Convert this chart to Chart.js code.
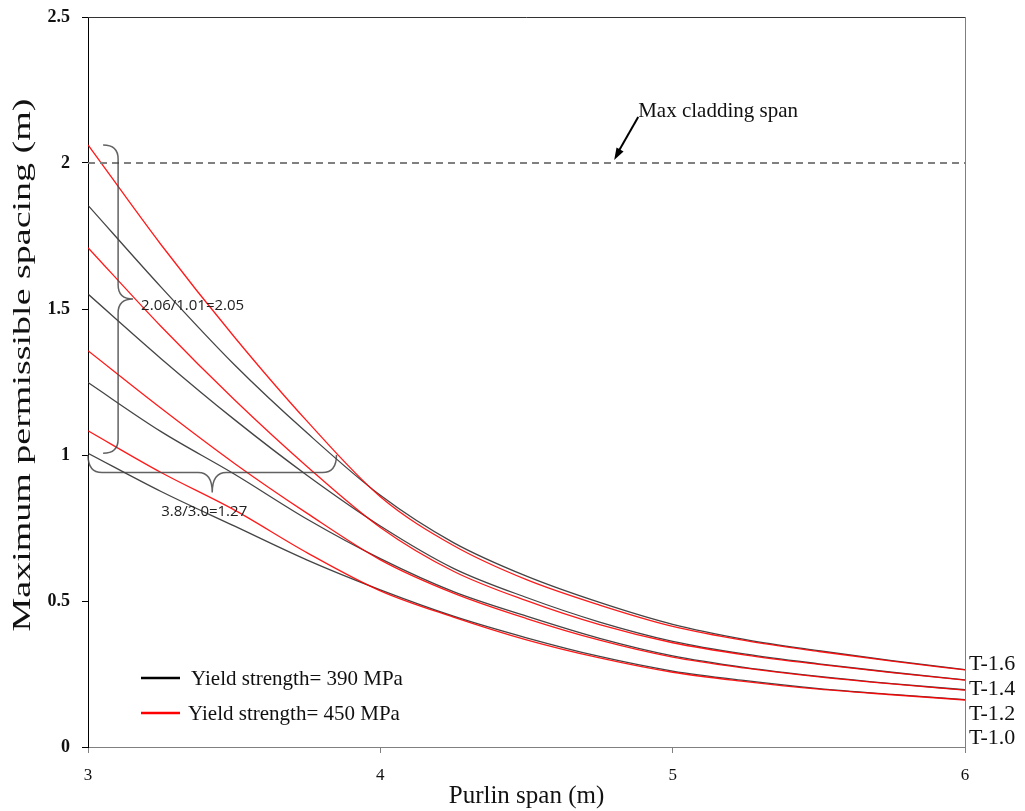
<!DOCTYPE html>
<html>
<head>
<meta charset="utf-8">
<script src="https://cdn.jsdelivr.net/npm/chart.js@4.4.1/dist/chart.umd.min.js"></script>
<style>
  html, body { margin: 0; padding: 0; background: #ffffff; }
  #wrap { width: 1025px; height: 811px; }
</style>
</head>
<body>
<div id="wrap"><canvas id="chart" width="1025" height="811"></canvas></div>
<script>
// Purlin span (m)
const spanX = [3, 3.25, 3.5, 3.75, 4, 4.25, 4.5, 4.75, 5, 5.25, 5.5, 5.75, 6];

// Maximum permissible spacing (m), yield strength 390 MPa
const y390_T16 = [1.855, 1.575, 1.31, 1.075, 0.862, 0.70, 0.585, 0.495, 0.42, 0.368, 0.33, 0.296, 0.265];
const y390_T14 = [1.551, 1.33, 1.122, 0.93, 0.757, 0.612, 0.512, 0.428, 0.362, 0.318, 0.285, 0.256, 0.23];
const y390_T12 = [1.248, 1.08, 0.935, 0.78, 0.645, 0.532, 0.448, 0.372, 0.312, 0.272, 0.242, 0.217, 0.196];
const y390_T10 = [1.006, 0.875, 0.757, 0.64, 0.538, 0.448, 0.374, 0.31, 0.26, 0.227, 0.2, 0.18, 0.162];

// Maximum permissible spacing (m), yield strength 450 MPa
const y450_T16 = [2.062, 1.72, 1.405, 1.115, 0.857, 0.69, 0.573, 0.486, 0.413, 0.364, 0.327, 0.294, 0.264];
const y450_T14 = [1.71, 1.44, 1.19, 0.96, 0.752, 0.602, 0.501, 0.419, 0.357, 0.315, 0.283, 0.255, 0.229];
const y450_T12 = [1.357, 1.16, 0.972, 0.80, 0.641, 0.527, 0.44, 0.366, 0.308, 0.27, 0.24, 0.216, 0.195];
const y450_T10 = [1.083, 0.94, 0.812, 0.665, 0.535, 0.445, 0.367, 0.305, 0.256, 0.224, 0.198, 0.179, 0.161];

// Cladding limit
const maxCladdingSpan = 2.0;

// Text
const thicknessLabels = ['T-1.6', 'T-1.4', 'T-1.2', 'T-1.0'];
const legendLabels = ['Yield strength= 390 MPa', 'Yield strength= 450 MPa'];
const xTitle = 'Purlin span (m)';
const yTitle = 'Maximum permissible spacing (m)';
const claddingLabel = 'Max cladding span';
const ratioThickness = '2.06/1.01=2.05';
const ratioSpan = '3.8/3.0=1.27';

const COLOR_390 = 'rgba(35,35,35,0.85)';
const COLOR_450 = 'rgba(255,0,0,0.9)';
const SERIF = '"Liberation Serif", "Times New Roman", serif';

function pts(values) {
  return spanX.map((x, i) => ({ x: x, y: values[i] }));
}

function curve(label, values, color) {
  return {
    label: label,
    data: pts(values),
    borderColor: color,
    backgroundColor: color,
    borderWidth: 1.3,
    pointRadius: 0,
    cubicInterpolationMode: 'monotone',
    fill: false
  };
}

const datasets = [
  {
    label: claddingLabel,
    data: [{ x: 3, y: maxCladdingSpan }, { x: 6, y: maxCladdingSpan }],
    borderColor: '#808080',
    borderWidth: 2,
    borderDash: [7, 5],
    pointRadius: 0,
    fill: false
  },
  curve('450 T-1.6', y450_T16, COLOR_450),
  curve('450 T-1.4', y450_T14, COLOR_450),
  curve('450 T-1.2', y450_T12, COLOR_450),
  curve('450 T-1.0', y450_T10, COLOR_450),
  curve('390 T-1.6', y390_T16, COLOR_390),
  curve('390 T-1.4', y390_T14, COLOR_390),
  curve('390 T-1.2', y390_T12, COLOR_390),
  curve('390 T-1.0', y390_T10, COLOR_390)
];

// Curly brace helpers (drawn in pixel space from scale positions)
function verticalBrace(ctx, x, yTop, yBot, depth) {
  const yMid = (yTop + yBot) / 2;
  const r = 14;
  ctx.beginPath();
  ctx.moveTo(x - depth, yTop);
  ctx.quadraticCurveTo(x, yTop, x, yTop + r);
  ctx.lineTo(x, yMid - r);
  ctx.quadraticCurveTo(x, yMid, x + depth, yMid);
  ctx.quadraticCurveTo(x, yMid, x, yMid + r);
  ctx.lineTo(x, yBot - r);
  ctx.quadraticCurveTo(x, yBot, x - depth, yBot);
  ctx.stroke();
}

function horizontalBrace(ctx, xL, xR, yTop, y, depth) {
  const xMid = (xL + xR) / 2;
  const r = 14;
  ctx.beginPath();
  ctx.moveTo(xL, yTop);
  ctx.quadraticCurveTo(xL, y, xL + r, y);
  ctx.lineTo(xMid - r, y);
  ctx.quadraticCurveTo(xMid, y, xMid, y + depth);
  ctx.quadraticCurveTo(xMid, y, xMid + r, y);
  ctx.lineTo(xR - r, y);
  ctx.quadraticCurveTo(xR, y, xR, yTop);
  ctx.stroke();
}

const decorations = {
  id: 'decorations',
  afterDatasetsDraw(chart) {
    const ctx = chart.ctx;
    const xs = chart.scales.x, ys = chart.scales.y;
    const area = chart.chartArea;
    ctx.save();

    // frame: top (dark) and right (grey) edges
    ctx.lineWidth = 1;
    ctx.strokeStyle = '#333';
    ctx.beginPath();
    ctx.moveTo(area.left, area.top + 0.5);
    ctx.lineTo(area.right + 0.5, area.top + 0.5);
    ctx.stroke();
    ctx.strokeStyle = '#808080';
    ctx.beginPath();
    ctx.moveTo(area.right + 0.5, area.top);
    ctx.lineTo(area.right + 0.5, area.bottom);
    ctx.stroke();

    // braces
    ctx.strokeStyle = 'rgba(70,70,70,0.85)';
    ctx.lineWidth = 1.5;
    const bx = xs.getPixelForValue(3.103);
    verticalBrace(ctx, bx, ys.getPixelForValue(2.062), ys.getPixelForValue(1.006), 15);
    horizontalBrace(ctx, xs.getPixelForValue(3.0), xs.getPixelForValue(3.85),
      ys.getPixelForValue(1.0), ys.getPixelForValue(0.94), 20);

    ctx.fillStyle = '#222';
    ctx.font = '15px "Open Sans", "Liberation Sans", sans-serif';
    ctx.textBaseline = 'middle';
    ctx.textAlign = 'left';
    ctx.fillText(ratioThickness, bx + 23, ys.getPixelForValue(1.51));
    ctx.textAlign = 'center';
    ctx.fillText(ratioSpan, (xs.getPixelForValue(3.0) + xs.getPixelForValue(3.85)) / 2 - 8,
      ys.getPixelForValue(0.805));

    // cladding label and arrow
    const tipX = xs.getPixelForValue(4.8), tipY = ys.getPixelForValue(maxCladdingSpan) - 3;
    const tailX = tipX + 24, tailY = tipY - 43;
    ctx.strokeStyle = '#000';
    ctx.fillStyle = '#000';
    ctx.lineWidth = 2;
    ctx.beginPath();
    ctx.moveTo(tailX, tailY);
    ctx.lineTo(tipX + 4, tipY - 8);
    ctx.stroke();
    const ang = Math.atan2(tipY - tailY, tipX - tailX);
    ctx.beginPath();
    ctx.moveTo(tipX, tipY);
    ctx.lineTo(tipX - 12 * Math.cos(ang) + 4 * Math.sin(ang), tipY - 12 * Math.sin(ang) - 4 * Math.cos(ang));
    ctx.lineTo(tipX - 12 * Math.cos(ang) - 4 * Math.sin(ang), tipY - 12 * Math.sin(ang) + 4 * Math.cos(ang));
    ctx.closePath();
    ctx.fill();
    ctx.font = '21px ' + SERIF;
    ctx.textAlign = 'left';
    ctx.textBaseline = 'middle';
    ctx.fillStyle = '#111';
    ctx.fillText(claddingLabel, tailX, tailY - 6);

    // thickness labels at right edge
    ctx.font = '22px ' + SERIF;
    ctx.fillStyle = '#111';
    ctx.textAlign = 'left';
    const labelY = [664, 689, 714, 738];
    thicknessLabels.forEach((t, i) => ctx.fillText(t, area.right + 4, labelY[i]));

    // legend
    const legY = [678, 713];
    ctx.font = '21px ' + SERIF;
    legendLabels.forEach((t, i) => {
      ctx.strokeStyle = i === 0 ? '#000' : '#ff0000';
      ctx.lineWidth = 2.5;
      ctx.beginPath();
      ctx.moveTo(141, legY[i]);
      ctx.lineTo(180, legY[i]);
      ctx.stroke();
      ctx.fillStyle = '#111';
      ctx.fillText(t, i === 0 ? 191 : 188, legY[i] + 1);
    });

    // axis titles
    ctx.font = '25px ' + SERIF;
    ctx.textAlign = 'center';
    ctx.textBaseline = 'middle';
    ctx.fillStyle = '#111';
    ctx.fillText(xTitle, (area.left + area.right) / 2, 796);
    ctx.translate(23, 365);
    ctx.rotate(-Math.PI / 2);
    ctx.scale(1.52, 1);
    ctx.fillText(yTitle, 0, 0);

    ctx.restore();
  }
};

new Chart(document.getElementById('chart'), {
  type: 'line',
  data: { datasets: datasets },
  options: {
    responsive: false,
    animation: false,
    layout: { padding: { left: 0, top: 17, right: 60, bottom: 0 } },
    plugins: {
      legend: { display: false },
      tooltip: { enabled: false }
    },
    scales: {
      x: {
        type: 'linear',
        min: 3,
        max: 6,
        ticks: {
          stepSize: 1,
          color: '#111',
          padding: 12,
          font: { family: SERIF, size: 17 }
        },
        grid: { drawOnChartArea: false, drawTicks: true, tickLength: 6, color: '#808080' },
        border: { display: true, color: '#808080', width: 1 },
        afterFit(scale) {
          scale.height = 64;
          scale.paddingLeft = 0;
          scale.paddingRight = 0;
        }
      },
      y: {
        min: 0,
        max: 2.5,
        ticks: {
          stepSize: 0.5,
          color: '#111',
          padding: 12,
          font: { family: SERIF, size: 18, weight: 'bold' },
          callback: (v) => String(Math.round(v * 10) / 10)
        },
        grid: { drawOnChartArea: false, drawTicks: true, tickLength: 6, color: '#000' },
        border: { display: true, color: '#000', width: 1 },
        afterFit(scale) {
          scale.width = 88;
          scale.paddingTop = 0;
          scale.paddingBottom = 0;
        }
      }
    }
  },
  plugins: [decorations]
});
</script>
</body>
</html>
